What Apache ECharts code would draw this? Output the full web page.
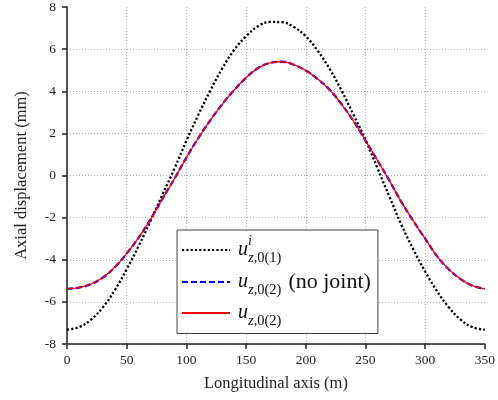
<!DOCTYPE html>
<html>
<head>
<meta charset="utf-8">
<script src="https://cdn.jsdelivr.net/npm/echarts@6/dist/echarts.min.js"></script>
<style>
html,body{margin:0;padding:0;background:#fff;}
#chart{width:498px;height:400px;}
</style>
</head>
<body>
<div id="chart"></div>
<script>
// Longitudinal positions (m)
const xPositions = [0,10,20,30,40,50,60,70,80,90,100,110,120,130,140,150,160,170,180,190,200,210,220,230,240,250,260,270,280,290,300,310,320,330,340,350];
// u^i_{z,0(1)} (mm)
const uInitial = [-7.32,-7.20,-6.85,-6.26,-5.45,-4.45,-3.35,-2.15,-0.90,0.33,1.65,2.88,4.03,5.08,5.96,6.61,7.09,7.29,7.28,7.05,6.61,5.92,5.06,4.03,2.88,1.70,0.35,-1.00,-2.33,-3.50,-4.56,-5.50,-6.27,-6.86,-7.21,-7.32];
// u_{z,0(2)} (no joint) (mm)
const uNoJoint = [-5.38,-5.32,-5.16,-4.84,-4.36,-3.70,-2.95,-2.08,-1.10,-0.15,0.85,1.78,2.62,3.38,4.06,4.64,5.10,5.35,5.40,5.26,4.98,4.58,4.07,3.38,2.58,1.66,0.72,-0.24,-1.25,-2.15,-3.00,-3.84,-4.47,-4.93,-5.24,-5.38];
// u_{z,0(2)} (mm)
const uJoint = [-5.38,-5.32,-5.16,-4.84,-4.36,-3.70,-2.95,-2.08,-1.10,-0.15,0.85,1.78,2.62,3.38,4.06,4.64,5.10,5.35,5.40,5.26,4.98,4.58,4.07,3.38,2.58,1.66,0.72,-0.24,-1.25,-2.15,-3.00,-3.84,-4.47,-4.93,-5.24,-5.38];
const seriesNames = ['ui1', 'u2nj', 'u2'];

function pairs(ys){ return xPositions.map((x,i)=>[x, ys[i]]); }

const serif = 'Liberation Serif';
const chart = echarts.init(document.getElementById('chart'), null, {renderer:'canvas'});
const axisCommon = {
  axisLine:{show:true, onZero:false, lineStyle:{color:'#222', width:1.5}},
  axisTick:{show:true, inside:false, length:5, lineStyle:{color:'#222', width:1.5}},
  axisLabel:{color:'#222', fontFamily:serif, fontSize:13.5},
  splitLine:{show:true, showMaxLine:false, lineStyle:{color:'#b0b0b0', width:1, type:[1,2]}},
  nameTextStyle:{color:'#222', fontFamily:serif, fontSize:16.5},
  nameLocation:'middle'
};
chart.setOption({
  animation:false,
  backgroundColor:'#fff',
  grid:{left:67, right:13, top:6, bottom:56, containLabel:false},
  xAxis: Object.assign({}, axisCommon, {
    type:'value', min:0, max:350, interval:50,
    name:'Longitudinal axis (m)', nameGap:31,
    axisLabel:Object.assign({}, axisCommon.axisLabel, {margin:9})
  }),
  yAxis: Object.assign({}, axisCommon, {
    type:'value', min:-8, max:8, interval:2,
    name:'Axial displacement (mm)', nameGap:37,
    axisLabel:Object.assign({}, axisCommon.axisLabel, {margin:11})
  }),
  legend:{
    show:true, orient:'vertical', left:177, top:230,
    padding:[4.5,7,5,4], itemGap:5.5, itemWidth:48, itemHeight:14,
    backgroundColor:'#fff', borderColor:'#444', borderWidth:1, borderRadius:0,
    selectedMode:false,
    itemStyle:{color:'rgba(0,0,0,0)', borderColor:'rgba(0,0,0,0)', borderWidth:0, opacity:0},
    data:seriesNames,
    formatter:function(name){
      if(name==='ui1') return '{u|u}{sup|i}{subi|z}{sub|,0(1)}';
      if(name==='u2nj') return '{u|u}{subi|z}{sub|,0(2)}{nj|(no joint)}';
      return '{u|u}{subi|z}{sub|,0(2)}';
    },
    textStyle:{
      fontFamily:serif, color:'#111',
      rich:{
        u:{fontFamily:serif, fontStyle:'italic', fontSize:20, lineHeight:31, verticalAlign:'middle', padding:[0,0,0,3], color:'#111'},
        sup:{fontFamily:serif, fontStyle:'italic', fontSize:14, lineHeight:14, verticalAlign:'top', width:0, color:'#111'},
        subi:{fontFamily:serif, fontStyle:'italic', fontSize:14.5, lineHeight:14, verticalAlign:'bottom', color:'#111'},
        sub:{fontFamily:serif, fontSize:14.5, lineHeight:14, verticalAlign:'bottom', color:'#111'},
        nj:{fontFamily:serif, fontSize:22, lineHeight:22, verticalAlign:'middle', padding:[0,0,0,7], color:'#111'}
      }
    }
  },
  series:[
    {name:seriesNames[0], type:'line', data:pairs(uInitial), symbol:'none', smooth:0.4,
     lineStyle:{color:'#000', width:2.3, type:[2.2,2.1], cap:'butt'}, itemStyle:{color:'#000'}, z:2},
    {name:seriesNames[1], type:'line', data:pairs(uNoJoint), symbol:'none', smooth:0.4,
     lineStyle:{color:'#0000ff', width:2.3, type:[6,3], cap:'butt'}, itemStyle:{color:'#0000ff'}, z:3},
    {name:seriesNames[2], type:'line', data:pairs(uJoint), symbol:'none', smooth:0.4,
     lineStyle:{color:'#ff0000', width:1.3, type:'solid'}, itemStyle:{color:'#ff0000'}, z:4}
  ]
});
</script>
</body>
</html>
